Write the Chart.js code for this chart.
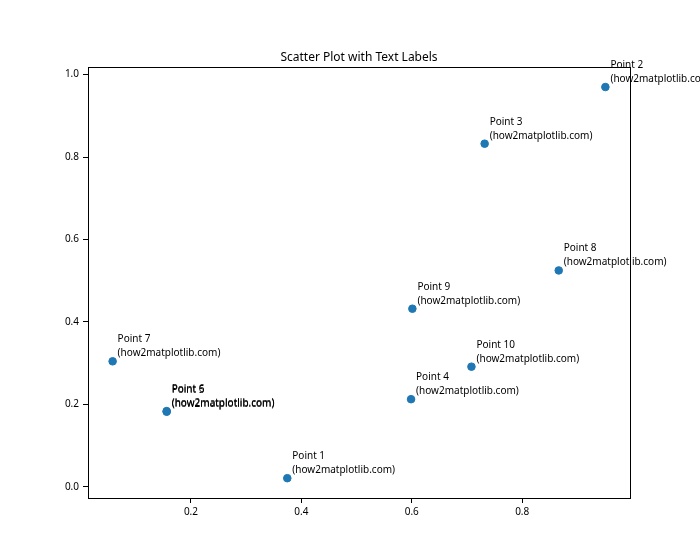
<!DOCTYPE html>
<html>
<head>
<meta charset="utf-8">
<script src="https://cdn.jsdelivr.net/npm/chart.js@4.4.1/dist/chart.umd.min.js"></script>
<style>
  html, body { margin: 0; padding: 0; background: #fff; }
  #wrap { width: 700px; height: 560px; }
</style>
</head>
<body>
<div id="wrap"><canvas id="c" width="700" height="560"></canvas></div>
<script>
// values
const pointNames = ["Point 1", "Point 2", "Point 3", "Point 4", "Point 5",
                    "Point 6", "Point 7", "Point 8", "Point 9", "Point 10"]
const xValues = [0.3745, 0.9507, 0.7320, 0.5987, 0.1560, 0.1560, 0.0581, 0.8662, 0.6011, 0.7081]
const yValues = [0.0206, 0.9699, 0.8324, 0.2123, 0.1818, 0.1834, 0.3042, 0.5248, 0.4319, 0.2912]
const xTicks = [0.2, 0.4, 0.6, 0.8]
const yTicks = [0.0, 0.2, 0.4, 0.6, 0.8, 1.0]
const subLabel = "(how2matplotlib.com)"
const titleText = "Scatter Plot with Text Labels"

const FONT = "'Noto Sans', 'DejaVu Sans', sans-serif"

// axis frame, title and the text labels next to each point
const decorations = {
  id: "decorations",
  afterDatasetsDraw(chart) {
    const { ctx, chartArea: a, scales } = chart
    ctx.save()
    ctx.strokeStyle = "#000"
    ctx.lineWidth = 1
    ctx.strokeRect(Math.round(a.left) + 0.5, Math.round(a.top) + 0.5,
      Math.round(a.right - a.left), Math.round(a.bottom - a.top))

    ctx.fillStyle = "#000"
    ctx.font = "12px " + FONT
    ctx.textAlign = "center"
    ctx.textBaseline = "alphabetic"
    ctx.fillText(titleText, (a.left + a.right) / 2, a.top - 6)

    ctx.font = "10px " + FONT
    ctx.textAlign = "left"
    xValues.forEach((xv, i) => {
      const px = scales.x.getPixelForValue(xv) + 5
      const py = scales.y.getPixelForValue(yValues[i]) - 5
      ctx.fillText(subLabel, px, py)
      ctx.fillText(pointNames[i], px, py - 14)
    })
    ctx.restore()
  },
}

const tickCfg = (values) => (axis) => {
  axis.ticks = values.map((v) => ({ value: v }))
}

new Chart(document.getElementById("c"), {
  type: "scatter",
  data: {
    datasets: [{
      data: xValues.map((x, i) => ({ x: x, y: yValues[i] })),
      backgroundColor: "#1f77b4",
      borderColor: "#1f77b4",
      pointRadius: 3.8,
      pointHoverRadius: 3.8,
    }],
  },
  options: {
    responsive: false,
    animation: false,
    events: [],
    layout: { padding: { left: 40, right: 70, top: 67, bottom: 37 } },
    plugins: { legend: { display: false }, tooltip: { enabled: false }, title: { display: false } },
    scales: {
      x: {
        type: "linear",
        min: 0.0135,
        max: 0.9953,
        afterBuildTicks: tickCfg(xTicks),
        afterFit: (s) => { s.height = 25 },
        border: { display: false },
        grid: { drawOnChartArea: false, drawTicks: true, tickLength: 5, color: "#000", tickColor: "#000" },
        ticks: { color: "#000", padding: 3, font: { family: FONT, size: 10 }, callback: (v) => v.toFixed(1), maxRotation: 0 },
      },
      y: {
        type: "linear",
        min: -0.0275,
        max: 1.0185,
        afterBuildTicks: tickCfg(yTicks),
        afterFit: (s) => { s.width = 48 },
        border: { display: false },
        grid: { drawOnChartArea: false, drawTicks: true, tickLength: 5, color: "#000", tickColor: "#000" },
        ticks: { color: "#000", padding: 4, font: { family: FONT, size: 10 }, callback: (v) => v.toFixed(1) },
      },
    },
  },
  plugins: [decorations],
})
</script>
</body>
</html>
